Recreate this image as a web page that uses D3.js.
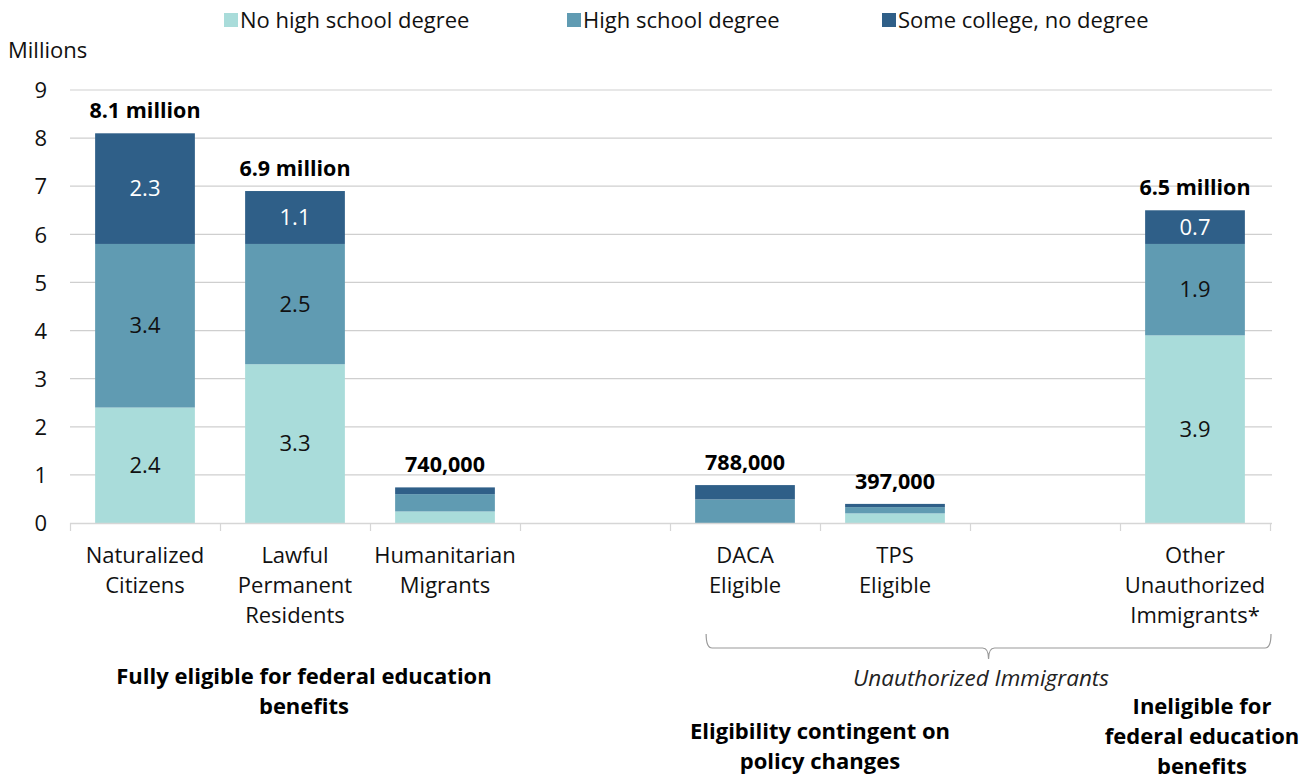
<!DOCTYPE html>
<html>
<head>
<meta charset="utf-8">
<script src="https://cdn.jsdelivr.net/npm/d3@7"></script>
<style>
  html, body { margin: 0; padding: 0; background: #ffffff; }
  svg { display: block; font-family: "Open Sans", "Noto Sans", sans-serif; }
</style>
</head>
<body>
<svg id="chart" width="1310" height="779"></svg>
<script>
// Category slots along the x axis (empty slots are visual gaps between groups)
const categoryLines = [
  ["Naturalized", "Citizens"],
  ["Lawful", "Permanent", "Residents"],
  ["Humanitarian", "Migrants"],
  [],
  ["DACA", "Eligible"],
  ["TPS", "Eligible"],
  [],
  ["Other", "Unauthorized", "Immigrants*"]
];

// Values in millions, by education level
const noHighSchool   = [2.4, 3.3, 0.24, null, 0,     0.20,  null, 3.9];
const highSchool     = [3.4, 2.5, 0.36, null, 0.49,  0.13,  null, 1.9];
const someCollege    = [2.3, 1.1, 0.14, null, 0.298, 0.067, null, 0.7];

const totalLabels = ["8.1 million", "6.9 million", "740,000", "", "788,000", "397,000", "", "6.5 million"];

const seriesNames  = ["No high school degree", "High school degree", "Some college, no degree"];
const seriesColors = ["#a9dcda", "#609bb2", "#2f5f88"];
const yTicks = [0, 1, 2, 3, 4, 5, 6, 7, 8, 9];

const svg = d3.select("#chart");

const x = d3.scaleBand()
  .domain(d3.range(categoryLines.length))
  .range([70, 1270])
  .paddingInner(0.335)
  .paddingOuter(0.1675);

// slot centres (step 150) and bar width
const xc = i => x.range()[0] + x.step() * i + x.step() / 2;
const bw = x.bandwidth();

const y = d3.scaleLinear().domain([0, 9]).range([523, 90]);

// Gridlines
svg.append("g")
  .selectAll("line")
  .data(yTicks.filter(t => t > 0))
  .join("line")
  .attr("x1", 70).attr("x2", 1272)
  .attr("y1", d => y(d)).attr("y2", d => y(d))
  .attr("stroke", "#cfcfcf").attr("stroke-width", 1.2);

// Y axis labels
const yAxis = d3.axisLeft(y).tickValues(yTicks).tickSize(0).tickPadding(0).tickFormat(d3.format("d"));
const yg = svg.append("g").attr("transform", "translate(47,0)").call(yAxis);
yg.select(".domain").remove();
yg.selectAll("text")
  .attr("font-family", "'Open Sans', sans-serif")
  .attr("font-size", 22).attr("fill", "#111").attr("dy", "0.35em");

svg.append("text")
  .attr("x", 8).attr("y", 58)
  .attr("font-size", 22).attr("fill", "#111")
  .text("Millions");

// Stacked bars
const rows = categoryLines.map((_, i) => ({
  i,
  v: [noHighSchool[i], highSchool[i], someCollege[i]]
})).filter(r => r.v[0] !== null);

const stackData = rows.map(r => ({ i: r.i, s0: r.v[0], s1: r.v[1], s2: r.v[2] }));
const stack = d3.stack().keys(["s0", "s1", "s2"]);
const layers = stack(stackData);

const gBars = svg.append("g");
layers.forEach((layer, k) => {
  gBars.selectAll(null)
    .data(layer)
    .join("rect")
    .attr("x", d => xc(d.data.i) - bw / 2)
    .attr("width", bw)
    .attr("y", d => y(d[1]))
    .attr("height", d => Math.max(0, y(d[0]) - y(d[1])))
    .attr("fill", seriesColors[k]);

  // segment value labels for the larger segments
  gBars.selectAll(null)
    .data(layer.filter(d => d[1] - d[0] >= 0.6))
    .join("text")
    .attr("x", d => xc(d.data.i))
    .attr("y", d => y((d[0] + d[1]) / 2))
    .attr("dy", "0.35em")
    .attr("text-anchor", "middle")
    .attr("font-size", 22)
    .attr("fill", k === 2 ? "#ffffff" : "#111")
    .text(d => d3.format(".1f")(d[1] - d[0]));
});

// Total labels above bars
svg.append("g")
  .selectAll("text")
  .data(stackData)
  .join("text")
  .attr("x", d => xc(d.i))
  .attr("y", d => y(d.s0 + d.s1 + d.s2) - 15)
  .attr("text-anchor", "middle")
  .attr("font-size", 21.5).attr("font-weight", 700).attr("fill", "#000")
  .text(d => totalLabels[d.i]);

// X axis baseline and slot separators
const gx = svg.append("g");
gx.append("line")
  .attr("x1", 70).attr("x2", 1272)
  .attr("y1", 523.5).attr("y2", 523.5)
  .attr("stroke", "#d6d6d6").attr("stroke-width", 1.5);
gx.selectAll("line.sep")
  .data(d3.range(categoryLines.length + 1))
  .join("line")
  .attr("class", "sep")
  .attr("x1", i => x.range()[0] + x.step() * i + 0.5)
  .attr("x2", i => x.range()[0] + x.step() * i + 0.5)
  .attr("y1", 523).attr("y2", 531)
  .attr("stroke", "#d6d6d6").attr("stroke-width", 1.2);

// Category labels
categoryLines.forEach((lines, i) => {
  const t = svg.append("text")
    .attr("text-anchor", "middle")
    .attr("font-size", 22).attr("fill", "#111");
  lines.forEach((ln, j) => {
    t.append("tspan").attr("x", xc(i)).attr("y", 563 + j * 30).text(ln);
  });
});

// Brace spanning the unauthorized groups
const bx0 = xc(4) - bw / 2 + 11;
const bx1 = 1271;
const bmid = (bx0 + bx1) / 2;
const by = 648;
svg.append("path")
  .attr("d", `M${bx0},634 Q${bx0},${by} ${bx0 + 6},${by} L${bmid - 6},${by} Q${bmid},${by} ${bmid},${by + 11} Q${bmid},${by} ${bmid + 6},${by} L${bx1 - 6},${by} Q${bx1},${by} ${bx1},634`)
  .attr("fill", "none").attr("stroke", "#9a9a9a").attr("stroke-width", 1.2);

svg.append("text")
  .attr("x", 981).attr("y", 686)
  .attr("text-anchor", "middle")
  .attr("font-size", 22.5).attr("font-style", "italic").attr("fill", "#222")
  .text("Unauthorized Immigrants");

// Group labels
const groupLabels = [
  { cx: 304,  y0: 684, lines: ["Fully eligible for federal education", "benefits"] },
  { cx: 820,  y0: 739, lines: ["Eligibility contingent on", "policy changes"] },
  { cx: 1202, y0: 714, lines: ["Ineligible for", "federal education", "benefits"] }
];
groupLabels.forEach(g => {
  const t = svg.append("text")
    .attr("text-anchor", "middle")
    .attr("font-size", 22).attr("font-weight", 700).attr("fill", "#000");
  g.lines.forEach((ln, j) => t.append("tspan").attr("x", g.cx).attr("y", g.y0 + j * 30).text(ln));
});

// Legend
const legendX = [224, 567, 882];
const lg = svg.append("g");
seriesNames.forEach((name, k) => {
  lg.append("rect")
    .attr("x", legendX[k]).attr("y", 13)
    .attr("width", 14).attr("height", 14)
    .attr("fill", seriesColors[k]);
  lg.append("text")
    .attr("x", legendX[k] + 16).attr("y", 28)
    .attr("font-size", 22).attr("fill", "#111")
    .text(name);
});
</script>
</body>
</html>
